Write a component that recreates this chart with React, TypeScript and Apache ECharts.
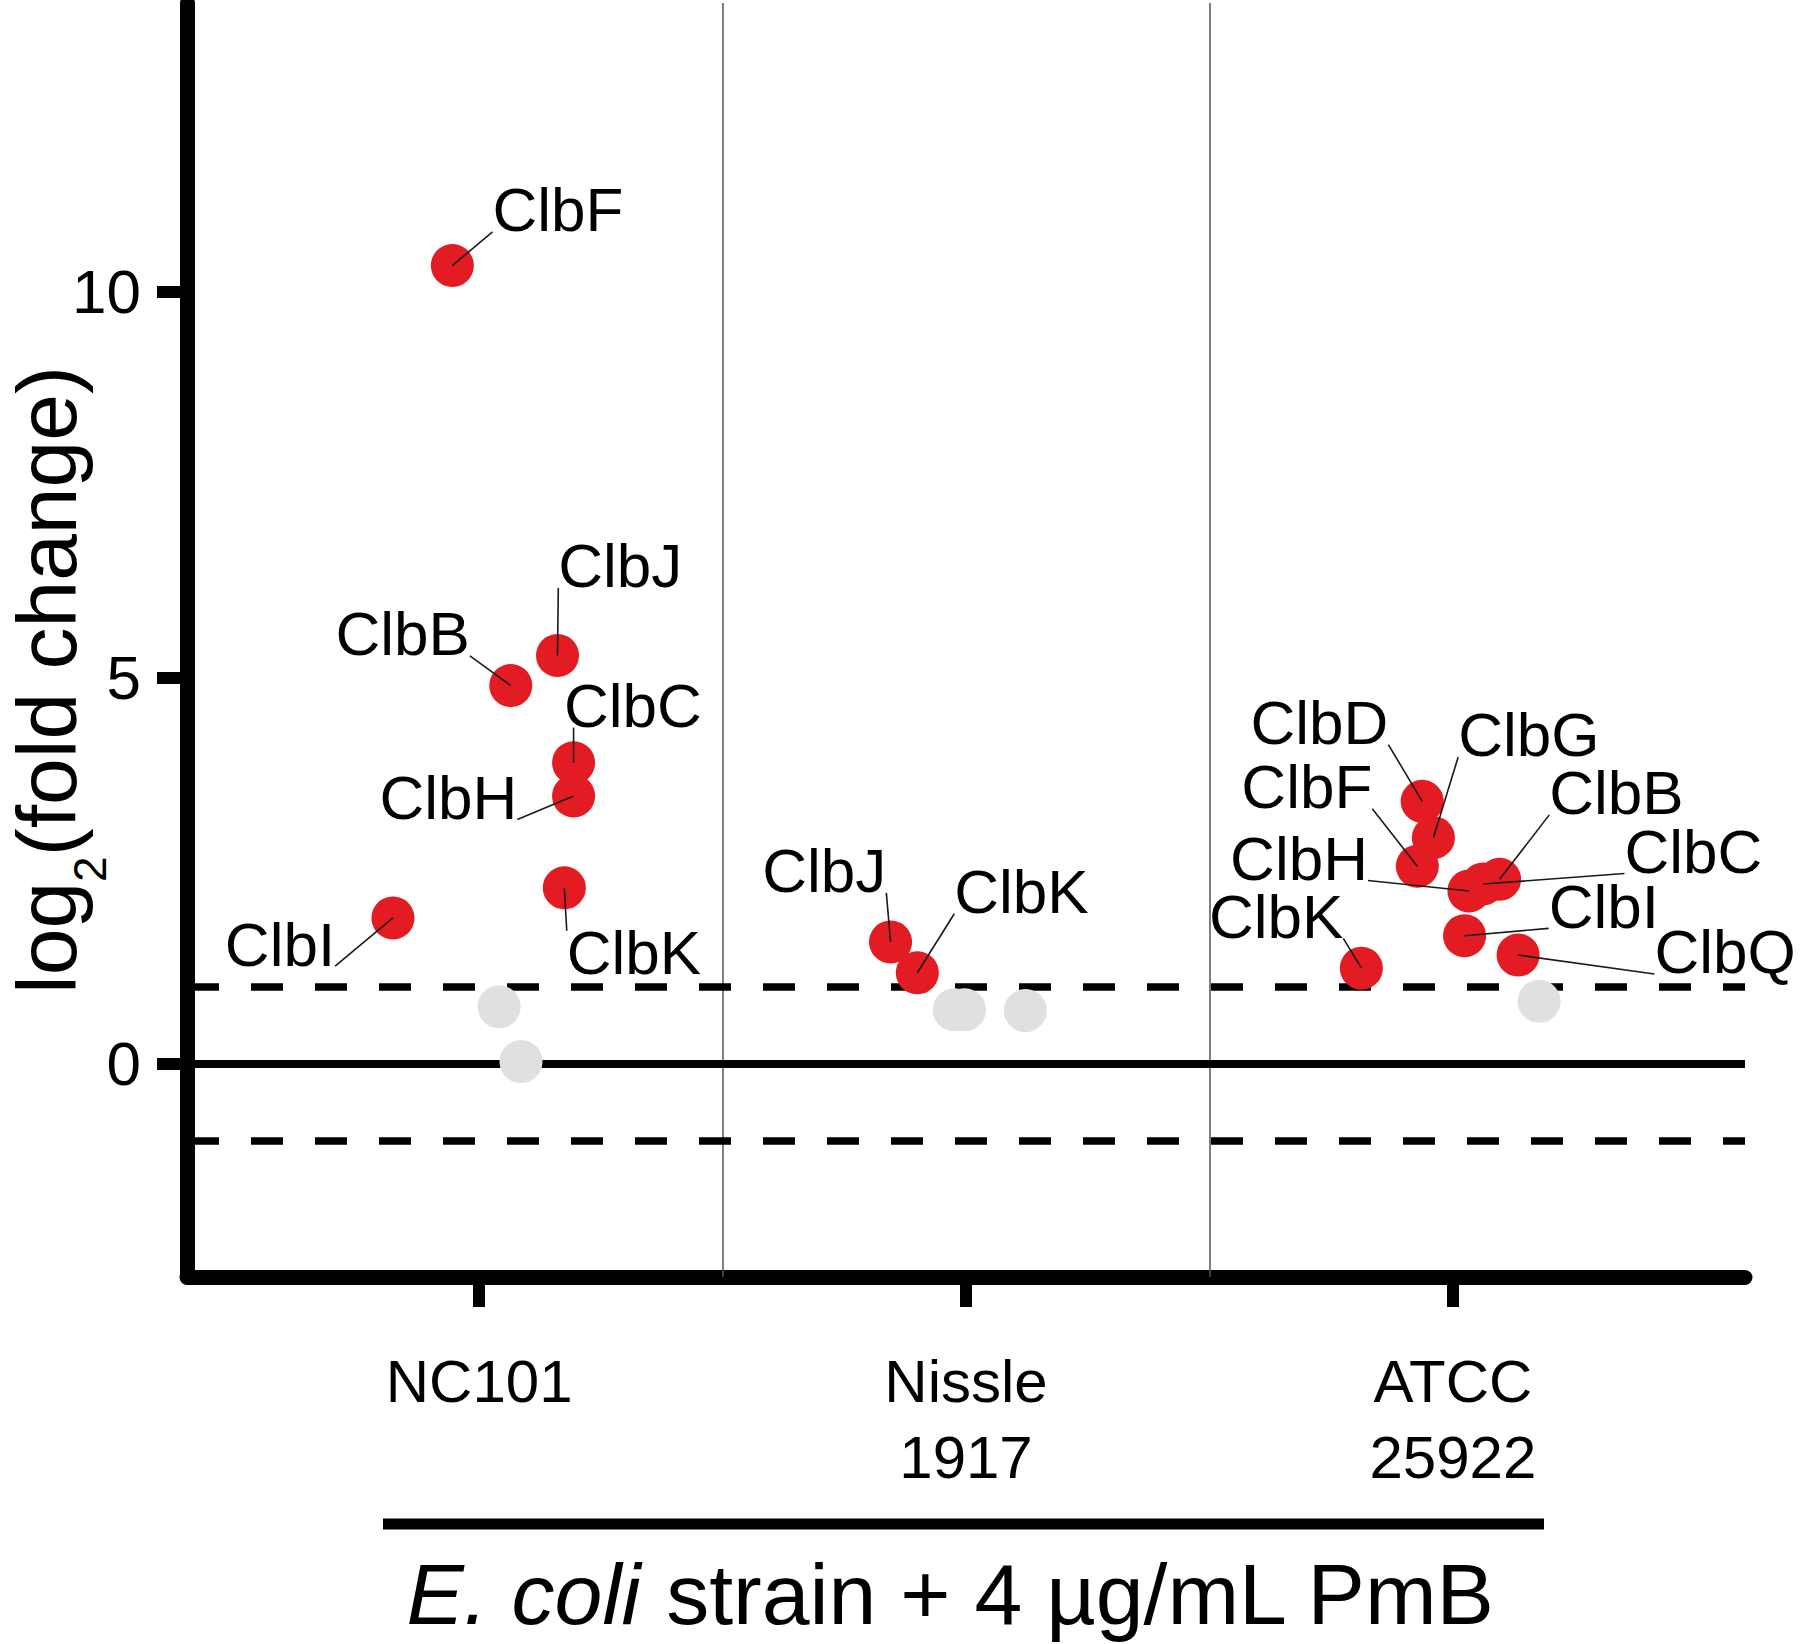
import React, { useEffect, useRef } from 'react';
import * as echarts from 'echarts';

const FONT = '"Liberation Sans", Arial, Helvetica, sans-serif';

// ---- axes / categories ----
const strains = ['NC101', 'Nissle\n1917', 'ATCC\n25922'];
const strainPos = [1, 2, 3];
const yTicks = [0, 5, 10];
const separators = [1.5, 2.5];
const baselineFc = 0;
const thresholds = [-1, 1];

// ---- NC101 ----
const nc101Genes = ['ClbF', 'ClbJ', 'ClbB', 'ClbC', 'ClbH', 'ClbK', 'ClbI'];
const nc101Fc = [10.34, 5.29, 4.9, 3.9, 3.47, 2.28, 1.89];
const nc101Jitter = [-0.055, 0.161, 0.065, 0.194, 0.194, 0.175, -0.177];
const nc101NsFc = [0.74, 0.03];
const nc101NsJitter = [0.041, 0.086];

// ---- Nissle 1917 ----
const nissleGenes = ['ClbJ', 'ClbK'];
const nissleFc = [1.58, 1.18];
const nissleJitter = [-0.155, -0.1];
const nissleNsFc = [0.7, 0.7, 0.69];
const nissleNsJitter = [-0.024, -0.003, 0.122];

// ---- ATCC 25922 ----
const atccGenes = ['ClbD', 'ClbG', 'ClbF', 'ClbB', 'ClbC', 'ClbH', 'ClbI', 'ClbQ', 'ClbK'];
const atccFc = [3.4, 2.93, 2.56, 2.39, 2.33, 2.24, 1.66, 1.41, 1.24];
const atccJitter = [-0.063, -0.04, -0.073, 0.096, 0.062, 0.033, 0.024, 0.134, -0.188];
const atccNsFc = [0.81];
const atccNsJitter = [0.177];

// ---- repelled label placement (text centres, in data units) ----
const nc101LabelAt = [[1.162, 11.06], [1.29, 6.45], [0.843, 5.57], [1.316, 4.64], [0.937, 3.45], [1.318, 1.44], [0.591, 1.55]];
const nc101LabelConn = ['auto', 'auto', 'auto', 'auto', 'br', 'auto', 'br'];
const nissleLabelAt = [[1.709, 2.5], [2.114, 2.23]];
const nissleLabelConn = ['auto', 'auto'];
const atccLabelAt = [[2.726, 4.42], [3.156, 4.26], [2.7, 3.59], [3.336, 3.51], [3.494, 2.75], [2.684, 2.66], [3.31, 2.04], [3.559, 1.45], [2.637, 1.91]];
const atccLabelConn = ['auto', 'auto', 'auto', 'auto', 'auto', 'auto', 'auto', 'bl', 'auto'];

const groups = [
  { pos: strainPos[0], genes: nc101Genes, fc: nc101Fc, jitter: nc101Jitter, nsFc: nc101NsFc, nsJitter: nc101NsJitter, labelAt: nc101LabelAt, conn: nc101LabelConn },
  { pos: strainPos[1], genes: nissleGenes, fc: nissleFc, jitter: nissleJitter, nsFc: nissleNsFc, nsJitter: nissleNsJitter, labelAt: nissleLabelAt, conn: nissleLabelConn },
  { pos: strainPos[2], genes: atccGenes, fc: atccFc, jitter: atccJitter, nsFc: atccNsFc, nsJitter: atccNsJitter, labelAt: atccLabelAt, conn: atccLabelConn },
];

const RED = '#E31C23';
const GREY = '#E0E0E0';

export default function App() {
  const ref = useRef<HTMLDivElement>(null);

  useEffect(() => {
    const el = ref.current!;
    const chart = echarts.init(el, null, { renderer: 'svg' });

    const canvas = document.createElement('canvas');
    const ctx = canvas.getContext('2d')!;
    const measure = (s: string, font: string) => {
      ctx.font = font;
      return ctx.measureText(s).width;
    };
    const fnt = (size: number, style = '') => `${style ? style + ' ' : ''}${size}px ${FONT}`;

    const redData: number[][] = [];
    const greyData: number[][] = [];
    const labelData: number[][] = [];
    const labelNames: string[] = [];
    const labelConn: string[] = [];
    groups.forEach((g) => {
      g.fc.forEach((v, i) => {
        redData.push([g.pos + g.jitter[i], v]);
        labelData.push([g.pos + g.jitter[i], v, g.labelAt[i][0], g.labelAt[i][1]]);
        labelNames.push(g.genes[i]);
        labelConn.push(g.conn[i]);
      });
      g.nsFc.forEach((v, i) => greyData.push([g.pos + g.nsJitter[i], v]));
    });

    const LABEL_FONT = fnt(62);
    const CAP_HALF = 22;

    // y-axis title pieces
    const wLog = measure('log', fnt(84));
    const wSub = measure('2', fnt(46));
    const wRest = measure('(fold change)', fnt(84));
    const W = wLog + wSub + wRest;
    const tStyle = (text: string, size: number, lh: number) => ({
      text,
      font: fnt(size),
      fill: '#000',
      lineHeight: lh,
      align: 'left',
      verticalAlign: 'middle',
      textAlign: 'left',
      textVerticalAlign: 'middle',
    });

    const option: any = {
      animation: false,
      backgroundColor: '#fff',
      grid: { left: 187, right: 55, top: 3, bottom: 367, containLabel: false, outerBoundsMode: 'none' },
      xAxis: {
        type: 'value',
        min: 0.4,
        max: 3.6,
        axisLine: { show: true, onZero: false, lineStyle: { color: '#000', width: 15 } },
        axisTick: { show: true, customValues: strainPos, length: 30, lineStyle: { color: '#000', width: 12 } },
        axisLabel: {
          customValues: strainPos,
          formatter: (v: number) => {
            const k = strainPos.indexOf(Math.round(v));
            return k >= 0 ? strains[k] : '';
          },
          fontSize: 60,
          fontFamily: FONT,
          color: '#000',
          lineHeight: 76,
          margin: 66,
          align: 'center',
        },
        splitLine: { show: false },
      },
      yAxis: {
        type: 'value',
        min: -2.76,
        max: 13.74,
        axisLine: { show: true, onZero: false, lineStyle: { color: '#000', width: 15 } },
        axisTick: { show: true, customValues: yTicks, length: 30, lineStyle: { color: '#000', width: 12 } },
        axisLabel: { customValues: yTicks, fontSize: 62, fontFamily: FONT, color: '#000', margin: 46 },
        splitLine: { show: false },
      },
      series: [
        {
          type: 'scatter',
          name: 'ns',
          z: 2,
          silent: true,
          symbol: 'circle',
          symbolSize: 43,
          itemStyle: { color: GREY, opacity: 1 },
          data: greyData,
          markLine: {
            z: 1,
            silent: true,
            symbol: ['none', 'none'],
            label: { show: false },
            emphasis: { disabled: true },
            data: [
              ...separators.map((v) => ({ xAxis: v, lineStyle: { color: '#555', width: 1.5, type: 'solid', opacity: 1 } })),
              { yAxis: baselineFc, lineStyle: { color: '#000', width: 8, type: 'solid', opacity: 1 } },
              ...thresholds.map((v) => ({ yAxis: v, lineStyle: { color: '#000', width: 7.5, type: [32, 32], opacity: 1 } })),
            ],
          },
        },
        {
          type: 'scatter',
          name: 'up',
          z: 3,
          silent: true,
          symbol: 'circle',
          symbolSize: 43,
          itemStyle: { color: RED, opacity: 1 },
          data: redData,
        },
        {
          type: 'custom',
          name: 'labels',
          z: 4,
          silent: true,
          clip: false,
          data: labelData,
          encode: { x: 0, y: 1 },
          renderItem: (params: any, api: any) => {
            const i = params.dataIndex;
            const p = api.coord([api.value(0), api.value(1)]);
            const c = api.coord([api.value(2), api.value(3)]);
            const name = labelNames[i];
            const w = measure(name, LABEL_FONT);
            const x1 = c[0] - w / 2;
            const x2 = c[0] + w / 2;
            const y1 = c[1] - CAP_HALF;
            const y2 = c[1] + CAP_HALF;
            let ex: number;
            let ey: number;
            const mode = labelConn[i];
            if (mode === 'br') {
              ex = x2;
              ey = y2;
            } else if (mode === 'bl') {
              ex = x1;
              ey = y2;
            } else {
              ex = Math.min(Math.max(p[0], x1), x2);
              ey = Math.min(Math.max(p[1], y1), y2);
            }
            return {
              type: 'group',
              children: [
                {
                  type: 'line',
                  shape: { x1: p[0], y1: p[1], x2: ex, y2: ey },
                  style: { stroke: '#1a1a1a', lineWidth: 1.6 },
                },
                {
                  type: 'text',
                  style: {
                    text: name,
                    x: c[0],
                    y: c[1],
                    font: LABEL_FONT,
                    lineHeight: 50,
                    fill: '#000',
                    align: 'center',
                    verticalAlign: 'middle',
                    textAlign: 'center',
                    textVerticalAlign: 'middle',
                  },
                },
              ],
            };
          },
        },
      ],
      graphic: [
        {
          type: 'group',
          x: 47,
          y: 680,
          rotation: Math.PI / 2,
          silent: true,
          children: [
            { type: 'text', x: -W / 2, y: 0, style: tStyle('log', 84, 60) },
            { type: 'text', x: -W / 2 + wLog, y: 43, style: tStyle('2', 46, 34) },
            { type: 'text', x: -W / 2 + wLog + wSub, y: 0, style: tStyle('(fold change)', 84, 60) },
          ],
        },
        {
          type: 'line',
          silent: true,
          shape: { x1: 383, y1: 1524, x2: 1544, y2: 1524 },
          style: { stroke: '#000', lineWidth: 11 },
        },
        {
          type: 'text',
          x: 951,
          y: 1594,
          silent: true,
          style: {
            text: '{i|E. coli}{n| strain + 4 µg/mL PmB}',
            rich: {
              i: { fontSize: 86, fontFamily: FONT, fontStyle: 'italic', fill: '#000' },
              n: { fontSize: 86, fontFamily: FONT, fill: '#000' },
            },
            font: fnt(86),
            fill: '#000',
            align: 'center',
            verticalAlign: 'middle',
            textAlign: 'center',
            textVerticalAlign: 'middle',
          },
        },
      ],
    };

    chart.setOption(option);
    return () => chart.dispose();
  }, []);

  return (
    <div
      ref={ref}
      style={{ position: 'fixed', left: 0, top: 0, width: 1800, height: 1644, background: '#fff' }}
    />
  );
}
